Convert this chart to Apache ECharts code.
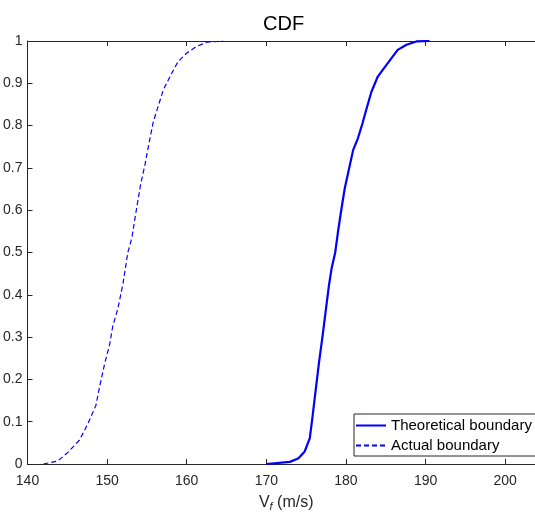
<!DOCTYPE html>
<html>
<head>
<meta charset="utf-8">
<script src="https://cdn.jsdelivr.net/npm/echarts@6/dist/echarts.min.js"></script>
<style>
html,body{margin:0;padding:0;background:#fff;}
#chart{width:535px;height:513px;}
</style>
</head>
<body>
<div id="chart"></div>
<script>
// Theoretical boundary CDF (velocity m/s, cumulative probability)
var theoV = [170.0, 172.95, 174.0, 174.8, 175.46, 175.8, 176.2, 176.6, 177.05, 177.47, 177.84, 178.2, 178.65, 179.0, 179.44, 179.85, 180.4, 180.9, 181.5, 182.07, 182.6, 183.2, 184.0, 184.9, 185.7, 186.5, 187.6, 188.85, 190.5];
var theoP = [0.0, 0.005, 0.013, 0.029, 0.061, 0.112, 0.175, 0.238, 0.301, 0.364, 0.419, 0.463, 0.50, 0.549, 0.604, 0.652, 0.699, 0.742, 0.770, 0.805, 0.841, 0.880, 0.916, 0.939, 0.959, 0.979, 0.991, 0.999, 1.0];
// Actual boundary CDF
var actualV = [142.0, 143.8, 145.1, 146.55, 147.6, 148.6, 149.06, 149.7, 150.3, 150.7, 151.36, 152.0, 152.6, 153.1, 153.7, 154.2, 154.75, 155.3, 155.8, 156.4, 157.05, 157.9, 158.9, 159.98, 161.2, 162.5, 164.6];
var actualP = [0.0, 0.007, 0.028, 0.057, 0.096, 0.139, 0.183, 0.238, 0.281, 0.325, 0.368, 0.427, 0.50, 0.534, 0.604, 0.66, 0.707, 0.762, 0.809, 0.845, 0.884, 0.916, 0.951, 0.971, 0.987, 0.997, 1.0];
var xTicks = [140, 150, 160, 170, 180, 190, 200];
var yTicks = [0, 0.1, 0.2, 0.3, 0.4, 0.5, 0.6, 0.7, 0.8, 0.9, 1];

function zip(a, b) { return a.map(function (v, i) { return [v, b[i]]; }); }

var font = 'Liberation Sans, Arial, Helvetica, sans-serif';
var axisColor = '#262626';
var chart = echarts.init(document.getElementById('chart'), null, {renderer: 'canvas'});
chart.setOption({
  animation: false,
  backgroundColor: '#fff',
  title: {
    text: 'CDF',
    left: 258, top: 9,
    textStyle: {fontFamily: font, fontSize: 20, fontWeight: 'normal', color: '#000'}
  },
  grid: {left: 27.5, right: -10, top: 41, bottom: 49, containLabel: false, outerBoundsMode: 'none'},
  legend: {
    orient: 'vertical',
    left: 354, top: 414,
    padding: [3, 14, 2, 1],
    itemGap: 3,
    itemWidth: 30, itemHeight: 17,
    backgroundColor: '#fff',
    borderColor: axisColor, borderWidth: 1,
    itemStyle: {opacity: 0},
    textStyle: {fontFamily: font, fontSize: 15, color: '#000', lineHeight: 17},
    data: ['Theoretical boundary', 'Actual boundary']
  },
  xAxis: [{
    type: 'value', min: 140, max: 205, interval: 10,
    name: 'V{sub|f} (m/s)', nameLocation: 'middle', nameGap: 29,
    nameTextStyle: {fontFamily: font, fontSize: 16, color: axisColor,
      rich: {sub: {fontFamily: font, fontSize: 11, fontStyle: 'italic', color: axisColor, verticalAlign: 'bottom', padding: [8, 0, 0, 0]}}},
    axisLine: {lineStyle: {color: axisColor, width: 1}},
    axisTick: {inside: true, length: 5, lineStyle: {color: axisColor}},
    axisLabel: {fontFamily: font, fontSize: 14, color: axisColor, margin: 10, showMaxLabel: false},
    splitLine: {show: false}
  }, {
    type: 'value', position: 'top', min: 140, max: 205, interval: 10,
    axisLine: {lineStyle: {color: axisColor, width: 1}},
    axisTick: {inside: true, length: 5, lineStyle: {color: axisColor}},
    axisLabel: {show: false},
    splitLine: {show: false}
  }],
  yAxis: {
    type: 'value', min: 0, max: 1, interval: 0.1,
    axisLine: {show: true, lineStyle: {color: axisColor, width: 1}},
    axisTick: {show: true, inside: true, length: 5, lineStyle: {color: axisColor}},
    axisLabel: {fontFamily: font, fontSize: 14, color: axisColor, margin: 5},
    splitLine: {show: false}
  },
  series: [{
    name: 'Theoretical boundary', type: 'line', xAxisIndex: 0,
    data: zip(theoV, theoP), symbol: 'none', smooth: false,
    lineStyle: {color: '#0000ff', width: 2.2}, itemStyle: {color: '#0000ff'}
  }, {
    name: 'Actual boundary', type: 'line', xAxisIndex: 0,
    data: zip(actualV, actualP), symbol: 'none', smooth: false,
    lineStyle: {color: '#0000ff', width: 1.2, type: [5, 3]}, itemStyle: {color: '#0000ff'}
  }]
});
</script>
</body>
</html>
